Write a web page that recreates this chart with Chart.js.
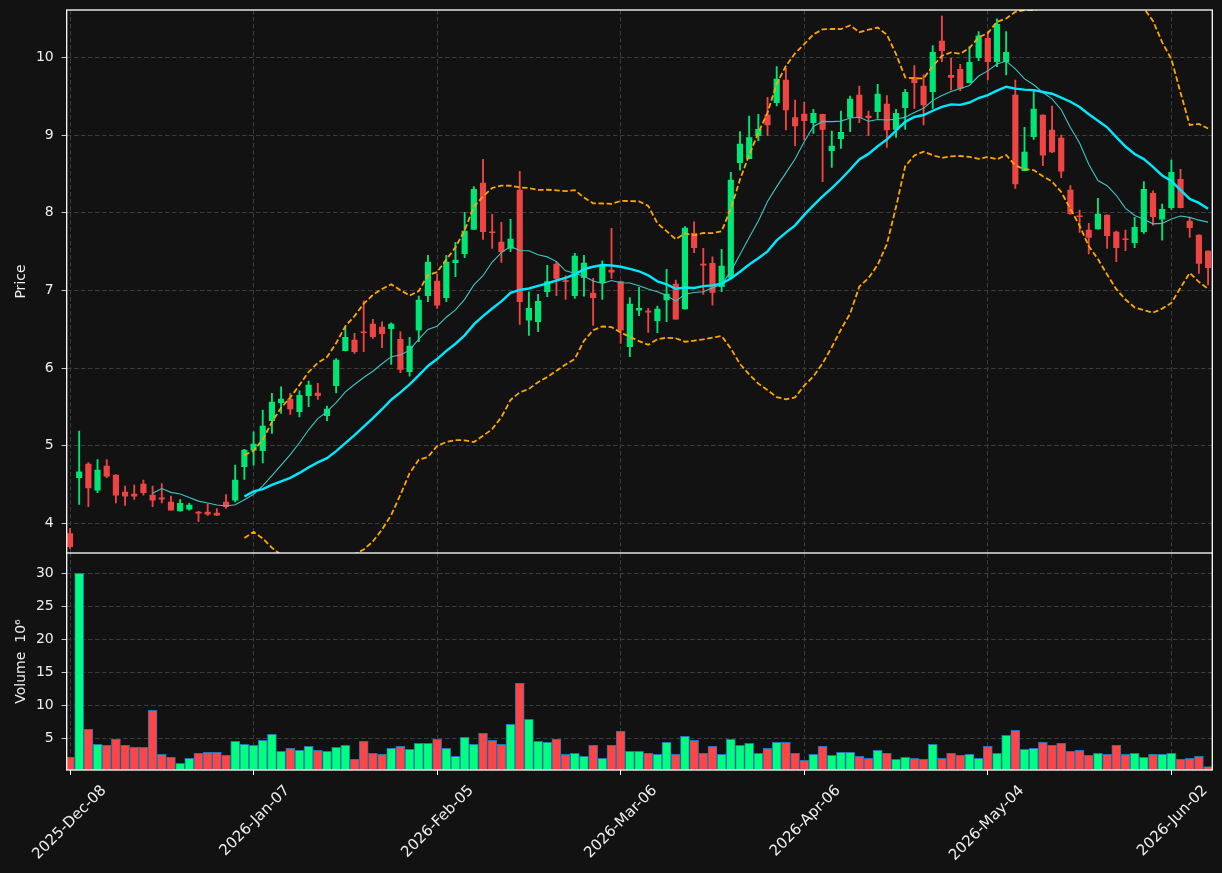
<!DOCTYPE html>
<html>
<head>
<meta charset="utf-8">
<script src="https://cdn.jsdelivr.net/npm/chart.js@4.4.1/dist/chart.umd.min.js"></script>
<style>
  html, body { margin: 0; padding: 0; background: #121212; }
  #wrap { position: relative; width: 1222px; height: 873px; overflow: hidden; }
  #price { position: absolute; left: 0; top: 0; }
  #volume { position: absolute; left: 0; top: 553px; }
</style>
</head>
<body>
<div id="wrap">
  <canvas id="price" width="1222" height="553"></canvas>
  <canvas id="volume" width="1222" height="320"></canvas>
</div>
<script>
// daily candles, index 0 = 2025-Dec-08 (trading days only)
const opens = [
  3.871, 4.588, 4.764, 4.429, 4.738, 4.622, 4.403, 4.378, 4.506, 4.365,
  4.330, 4.275, 4.163, 4.185, 4.142, 4.146, 4.133, 4.275, 4.300, 4.730,
  4.944, 4.936, 5.322, 5.554, 5.601, 5.438, 5.644, 5.678, 5.386, 5.773,
  6.223, 6.360, 6.464, 6.567, 6.528, 6.506, 6.369, 5.953, 6.489, 6.931,
  7.120, 6.906, 7.356, 7.472, 7.785, 8.382, 7.755, 7.622, 7.541, 8.292,
  6.618, 6.597, 6.983, 7.339, 7.120, 6.931, 7.167, 6.966, 7.099, 7.262,
  7.112, 6.275, 6.747, 6.734, 6.609, 6.876, 7.082, 6.760, 7.734, 7.339,
  7.348, 7.047, 7.167, 8.644, 8.695, 8.991, 9.258, 9.416, 9.708, 9.223,
  9.270, 9.159, 9.266, 8.798, 8.953, 9.227, 9.515, 9.245, 9.300, 9.399,
  9.073, 9.352, 9.742, 9.631, 9.558, 10.210, 9.768, 9.845, 9.674, 9.996,
  10.245, 9.944, 9.944, 9.515, 8.541, 8.979, 9.258, 9.064, 8.961, 8.292,
  7.957, 7.777, 7.790, 7.970, 7.751, 7.665, 7.614, 7.755, 8.249, 7.918,
  8.064, 8.429, 7.893, 7.712, 7.506
];
const highs = [
  3.936, 5.189, 4.785, 4.824, 4.824, 4.630, 4.481, 4.494, 4.558, 4.481,
  4.515, 4.352, 4.309, 4.258, 4.155, 4.249, 4.193, 4.373, 4.751, 4.953,
  5.180, 5.459, 5.674, 5.760, 5.674, 5.708, 5.833, 5.803, 5.511, 6.124,
  6.524, 6.446, 6.867, 6.627, 6.597, 6.584, 6.468, 6.395, 6.927, 7.451,
  7.210, 7.451, 7.618, 8.004, 8.335, 8.687, 7.979, 7.876, 7.914, 8.532,
  6.983, 6.948, 7.322, 7.369, 7.189, 7.476, 7.451, 7.155, 7.382, 7.798,
  7.120, 6.906, 7.039, 6.768, 6.798, 7.270, 7.133, 7.820, 7.884, 7.541,
  7.433, 7.528, 8.519, 9.043, 9.245, 9.266, 9.485, 9.880, 9.858, 9.451,
  9.421, 9.330, 9.270, 9.052, 9.309, 9.502, 9.631, 9.309, 9.652, 9.506,
  9.330, 9.588, 9.893, 9.773, 10.150, 10.532, 9.987, 9.910, 10.137, 10.330,
  10.330, 10.494, 10.330, 9.708, 9.099, 9.588, 9.260, 9.373, 9.000, 8.348,
  8.034, 7.863, 8.185, 7.972, 7.764, 7.777, 7.940, 8.399, 8.283, 8.112,
  8.678, 8.558, 7.940, 7.714, 7.508
];
const lows = [
  3.680, 4.245, 4.215, 4.395, 4.588, 4.266, 4.232, 4.309, 4.365, 4.215,
  4.266, 4.170, 4.160, 4.172, 4.026, 4.103, 4.105, 4.193, 4.279, 4.567,
  4.751, 4.781, 5.159, 5.416, 5.403, 5.373, 5.502, 5.597, 5.322, 5.682,
  6.220, 6.189, 6.210, 6.382, 6.262, 6.047, 5.940, 5.897, 6.339, 6.854,
  6.768, 6.854, 7.176, 7.421, 7.780, 7.657, 7.541, 7.361, 7.498, 6.562,
  6.421, 6.468, 6.918, 6.931, 6.884, 6.897, 6.927, 6.549, 6.884, 7.155,
  6.318, 6.146, 6.674, 6.459, 6.455, 6.597, 6.630, 6.758, 7.485, 6.948,
  6.811, 6.983, 7.165, 8.549, 8.693, 8.927, 8.991, 9.373, 9.064, 8.863,
  8.936, 9.021, 8.399, 8.584, 8.828, 9.043, 9.159, 8.991, 9.215, 8.841,
  8.970, 9.073, 9.343, 9.129, 9.343, 9.944, 9.579, 9.571, 9.672, 9.957,
  9.708, 9.880, 9.773, 8.313, 8.539, 8.944, 8.605, 8.773, 8.451, 7.979,
  7.747, 7.468, 7.788, 7.541, 7.369, 7.511, 7.549, 7.734, 7.841, 7.648,
  8.043, 8.062, 7.682, 7.219, 7.069
];
const closes = [
  3.700, 4.665, 4.459, 4.687, 4.609, 4.365, 4.352, 4.352, 4.395, 4.300,
  4.313, 4.172, 4.258, 4.236, 4.133, 4.120, 4.107, 4.215, 4.558, 4.944,
  5.021, 5.253, 5.562, 5.601, 5.476, 5.648, 5.781, 5.644, 5.472, 6.103,
  6.395, 6.210, 6.455, 6.403, 6.442, 6.567, 5.983, 6.283, 6.876, 7.365,
  6.811, 7.365, 7.391, 7.764, 8.300, 7.755, 7.742, 7.498, 7.661, 6.854,
  6.768, 6.858, 7.112, 7.155, 7.112, 7.442, 7.352, 6.906, 7.326, 7.236,
  6.489, 6.824, 6.768, 6.721, 6.760, 6.953, 6.631, 7.803, 7.549, 7.326,
  6.974, 7.313, 8.421, 8.884, 8.966, 9.073, 9.129, 9.721, 9.322, 9.116,
  9.185, 9.279, 9.073, 8.858, 9.034, 9.464, 9.227, 9.223, 9.528, 9.064,
  9.279, 9.549, 9.674, 9.386, 10.064, 10.086, 9.742, 9.601, 9.936, 10.275,
  9.944, 10.425, 10.064, 8.369, 8.781, 9.335, 8.742, 8.781, 8.536, 7.987,
  7.948, 7.682, 7.983, 7.704, 7.549, 7.652, 7.811, 8.300, 7.948, 8.043,
  8.519, 8.064, 7.807, 7.348, 7.292
];
// volume in millions
const volumes = [
  2.12, 30.0, 6.36, 4.09, 3.94, 4.85, 3.94, 3.64, 3.64, 9.24,
  2.58, 2.12, 1.21, 1.97, 2.73, 2.88, 2.88, 2.42, 4.55, 4.09,
  3.94, 4.70, 5.61, 3.03, 3.48, 3.18, 3.79, 3.18, 3.03, 3.64,
  3.94, 1.82, 4.55, 2.73, 2.58, 3.48, 3.79, 3.33, 4.24, 4.24,
  4.85, 3.48, 2.27, 5.15, 4.09, 5.76, 4.70, 4.09, 7.12, 13.33,
  7.88, 4.55, 4.39, 4.85, 2.58, 2.73, 2.27, 3.94, 1.97, 3.94,
  6.06, 3.03, 3.03, 2.73, 2.58, 4.39, 2.58, 5.30, 4.70, 2.73,
  3.79, 2.58, 4.85, 3.94, 4.24, 2.73, 3.48, 4.39, 4.39, 2.73,
  1.67, 2.58, 3.79, 2.42, 2.88, 2.88, 2.27, 1.97, 3.18, 2.73,
  1.82, 2.12, 1.97, 1.82, 4.09, 1.97, 2.73, 2.42, 2.58, 1.97,
  3.79, 2.73, 5.45, 6.21, 3.33, 3.48, 4.39, 3.94, 4.24, 3.03,
  3.18, 2.42, 2.73, 2.58, 3.94, 2.58, 2.73, 2.12, 2.58, 2.58,
  2.73, 1.82, 1.97, 2.27, 0.71
];
const tickIndex = [0, 20, 40, 60, 80, 100, 120];
const tickLabels = ['2025-Dec-08', '2026-Jan-07', '2026-Feb-05', '2026-Mar-06',
                    '2026-Apr-06', '2026-May-04', '2026-Jun-02'];
const priceTicks = [4, 5, 6, 7, 8, 9, 10];
const volumeTicks = [5, 10, 15, 20, 25, 30];

const TXT = '#eeeeee';
const GRID = '#3c3c3c';
const UP = '#00e676', DOWN = '#ef4444';
const VOL_UP = '#00ff7f', VOL_DOWN = '#ff4545', VOL_EDGE = '#1f77b4';
const font = { family: 'DejaVu Sans', size: 14 };
const dateFont = { family: 'DejaVu Sans', size: 15 };
Chart.defaults.font.family = 'DejaVu Sans';

const idx = closes.map((_, i) => i);
const isUp = closes.map((c, i) => c >= opens[i]);
const candleColor = isUp.map(u => u ? UP : DOWN);

// moving averages and bands come from the closes above
function rollingMean(values, n) {
  return values.map((_, i) => {
    if (i < n - 1) return null;
    const w = values.slice(i - n + 1, i + 1);
    return w.reduce((a, b) => a + b, 0) / n;
  });
}
function rollingStd(values, n) {
  const m = rollingMean(values, n);
  return values.map((_, i) => {
    if (i < n - 1) return null;
    const w = values.slice(i - n + 1, i + 1);
    return Math.sqrt(w.reduce((a, b) => a + (b - m[i]) ** 2, 0) / (n - 1));
  });
}
const ma10 = rollingMean(closes, 10);
const ma20 = rollingMean(closes, 20);
const sd20 = rollingStd(closes, 20);
const bandUp = ma20.map((m, i) => m === null ? null : m + 2 * sd20[i]);
const bandLow = ma20.map((m, i) => m === null ? null : m - 2 * sd20[i]);

const frame = {
  id: 'frame',
  afterDraw(chart) {
    const { ctx, chartArea: a } = chart;
    ctx.save();
    ctx.strokeStyle = '#ffffff';
    ctx.lineWidth = 1.3;
    ctx.strokeRect(a.left, a.top, a.right - a.left, a.bottom - a.top);
    ctx.restore();
  }
};

function xAxis(showLabels) {
  return {
    type: 'linear',
    min: -0.36,
    max: 124.46,
    offset: false,
    afterBuildTicks: s => { s.ticks = tickIndex.map(v => ({ value: v })); },
    afterFit: s => { s.height = showLabels ? 103 : 0; s.paddingLeft = 0; s.paddingRight = 0; },
    grid: { offset: false, color: GRID, lineWidth: 1, drawTicks: showLabels, tickLength: 5, tickColor: '#ffffff', tickBorderDash: [1, 0] },
    border: { display: false, dash: [4.5, 2.5] },
    ticks: {
      display: showLabels, autoSkip: false, maxRotation: 45, minRotation: 45,
      color: TXT, font: dateFont, labelOffset: 34, padding: 7,
      callback: (v, i) => tickLabels[i]
    }
  };
}

function yAxis(min, max, ticks, title) {
  return {
    min, max,
    afterBuildTicks: s => { s.ticks = ticks.map(v => ({ value: v })); },
    afterFit: s => { s.width = 66.7; s.paddingTop = 0; s.paddingBottom = 0; },
    grid: { color: GRID, lineWidth: 1, tickLength: 5, tickColor: '#ffffff', tickBorderDash: [1, 0] },
    border: { display: false, dash: [4.5, 2.5] },
    ticks: { color: TXT, font, padding: 8 },
    title: { display: true, text: title, color: TXT, font, padding: { top: 13, bottom: 0 } }
  };
}

const point = arr => idx.map(i => ({ x: i, y: arr[i] }));

new Chart(document.getElementById('price'), {
  type: 'bar',
  data: {
    datasets: [
      { type: 'line', data: point(bandUp), borderColor: '#ffa500', borderWidth: 1.8, borderDash: [5.5, 2.6],
        pointRadius: 0, order: 0 },
      { type: 'line', data: point(bandLow), borderColor: '#ffa500', borderWidth: 1.8, borderDash: [5.5, 2.6],
        pointRadius: 0, order: 0 },
      { type: 'line', data: point(ma20), borderColor: '#00e8ff', borderWidth: 2.4, pointRadius: 0, order: 0 },
      { type: 'line', data: point(ma10), borderColor: '#40c4c4', borderWidth: 1.1, pointRadius: 0, order: 0 },
      { type: 'bar', data: idx.map(i => ({ x: i, y: [opens[i], closes[i]] })), backgroundColor: candleColor,
        barThickness: 5.5, minBarLength: 1, grouped: false, order: 1 },
      { type: 'bar', data: idx.map(i => ({ x: i, y: [lows[i], highs[i]] })), backgroundColor: candleColor,
        barThickness: 1.2, minBarLength: 1, grouped: false, order: 2 }
    ]
  },
  options: {
    responsive: false,
    animation: false,
    layout: { padding: { top: 10, right: 9.7, left: 0, bottom: 0 } },
    plugins: { legend: { display: false }, tooltip: { enabled: false } },
    scales: {
      x: xAxis(false),
      y: yAxis(3.62, 10.609, priceTicks, 'Price')
    }
  },
  plugins: [frame]
});

new Chart(document.getElementById('volume'), {
  type: 'bar',
  data: {
    datasets: [{
      data: idx.map(i => ({ x: i, y: volumes[i] })),
      backgroundColor: isUp.map(u => u ? VOL_UP : VOL_DOWN),
      borderColor: VOL_EDGE,
      borderWidth: 1,
      barThickness: 9,
      grouped: false
    }]
  },
  options: {
    responsive: false,
    animation: false,
    layout: { padding: { top: 0, right: 9.7, left: 0, bottom: 0 } },
    plugins: { legend: { display: false }, tooltip: { enabled: false } },
    scales: {
      x: xAxis(true),
      y: yAxis(0.21, 33.07, volumeTicks, 'Volume  10\u2076')
    }
  },
  plugins: [frame]
});
</script>
</body>
</html>
